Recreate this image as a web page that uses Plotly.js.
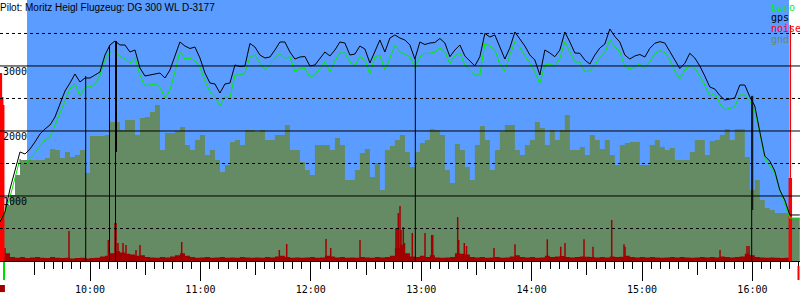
<!DOCTYPE html>
<html><head><meta charset="utf-8">
<script src="https://cdn.plot.ly/plotly-3.0.1.min.js"></script>
<style>html,body{margin:0;padding:0;background:#fff}#c{width:800px;height:300px}</style>
</head><body><div id="c"></div>
<script>
const DAY = '2000-01-01 ';
const titleText = 'Pilot: Moritz Heigl Flugzeug: DG 300 WL D-3177';
const sampleStart = '09:11:05';
const sampleStepSec = 163;

const gps = [600,754,1108,1415,1677,1646,1723,1831,1954,2031,
2092,2215,2431,2615,2738,2877,2754,2815,2815,2861,
2907,3169,3323,3384,3323,3323,3215,3246,2969,2846,
2861,2884,2892,2815,2938,3154,3369,3307,3269,3292,
3123,2892,2738,2723,2584,2723,2738,3015,2992,3000,
3346,3292,3169,3123,3138,3246,3369,3369,3215,3107,
3138,3146,3000,3015,3123,3215,3154,3246,3369,3353,
3169,3184,3307,3261,3046,3215,3400,3215,3430,3477,
3430,3400,3323,3107,3369,3330,3353,3361,3423,3353,
3143,3246,3323,3154,3069,3000,3143,3500,3446,3477,
3292,3107,3277,3523,3415,3307,3169,3092,2861,3246,
3200,3143,3246,3523,3369,3200,3195,3092,3030,3169,
3277,3338,3569,3454,3369,3169,3107,3154,3177,3138,
3272,3349,3374,3353,3223,3100,2961,3041,3195,3123,
3000,2846,2677,2646,2546,2477,2492,2507,2707,2707,
2527,2384,1989,1615,1538,1384,1092,938,708,708,
708];

const baro = [631,738,985,1261,1569,1492,1569,1661,1769,1861,
1908,2092,2277,2461,2646,2734,2538,2677,2677,2723,
2861,3092,3215,3230,3143,3115,3046,3138,2861,2692,
2707,2723,2681,2507,2630,2907,3230,3107,3123,3077,
2984,2769,2604,2538,2384,2527,2507,2861,2861,2892,
3138,3169,3046,2938,3026,3107,3195,3118,3143,2912,
2969,2961,2830,2861,2969,3061,2907,3077,3200,3200,
3061,3015,3143,3092,2877,3138,3169,2938,3123,3323,
3220,3184,3143,2984,3138,3195,3195,3215,3277,3215,
3041,3154,3200,3015,2923,2861,2861,3349,3307,3246,
3030,2923,3169,3374,3292,3154,3046,2907,2734,3015,
3030,3000,3118,3374,3215,3061,3061,2912,2923,3015,
3130,3200,3400,3297,3220,2989,2954,2984,3041,2964,
3066,3195,3238,3207,3092,2923,2800,2938,3007,2969,
2846,2707,2538,2580,2426,2323,2349,2374,2554,2554,
2461,2307,1969,1584,1469,1349,1092,892,661,661,
661];

const gnd = [738,861,1015,1323,1554,1554,1554,1554,1554,1584,
1723,1708,1584,1677,1600,1631,1708,1354,1923,1923,
1923,1938,2138,2138,2015,2169,2169,1938,2200,2215,
2292,2400,1708,1969,1969,2000,2061,1784,1708,1861,
1938,1631,1708,1554,1369,1477,1831,1861,1784,2015,
2015,1984,2015,1861,1861,1938,1938,2092,1708,1708,
1523,1400,1323,1784,1784,1784,1708,1892,1784,1246,
1246,1400,1661,1723,1292,1508,1092,1708,1769,1861,
1938,1677,1446,1677,1815,1861,2031,2015,1938,1400,
1200,1800,1708,1446,1246,1784,2077,1861,1400,1708,
1984,2092,2092,1708,1631,1784,1861,2138,2046,1784,
2015,1861,2015,2246,1708,1708,1754,1631,1938,1861,
1723,1861,1631,1477,1784,1815,1831,1831,1477,1477,
1784,1861,1754,1708,1738,1554,1554,1554,1677,1861,
1861,1631,1846,1861,1938,2031,1861,2031,2031,1600,
1092,1246,938,815,785,738,738,738,661,661,
661];

const noiseBase = [60,120,60,50,60,45,55,60,50,45,
60,50,45,50,40,45,50,40,45,50,
70,80,120,150,130,110,100,80,90,60,
55,50,60,55,70,90,120,80,60,50,
55,60,50,55,60,50,55,50,60,55,
50,55,50,60,55,70,80,60,50,55,
50,55,60,50,55,80,70,55,60,50,
55,50,60,55,50,60,55,60,80,200,
250,120,70,60,80,60,90,55,50,55,
60,120,110,100,60,55,60,50,55,60,
50,55,70,90,60,55,60,50,55,80,
60,70,75,60,55,60,70,65,60,55,
60,55,70,60,65,80,60,55,60,55,
60,55,50,55,60,55,60,55,50,55,
60,55,60,55,70,60,55,60,70,110,
90,60,55,50,55,50,45,50,0,0,
0];

const spikeTimes = ['09:11:22','09:11:50','09:12:33','09:13:06','09:13:48','09:48:35','10:09:57','10:13:35','10:14:08','10:15:13','10:17:56',
'10:19:34','10:25:00','10:27:10','10:49:50','11:42:53','11:46:54','12:08:16','12:10:49','12:26:44','12:46:18',
'12:46:51','12:47:33','12:48:29','12:49:01','12:50:16','12:50:56','12:55:10','13:02:04','13:05:42','13:06:15',
'13:19:50','13:20:23','13:23:26','13:24:37','13:39:34','13:50:59','14:08:32','14:15:49','14:18:09','14:28:29',
'14:33:22','14:43:32','14:50:13','14:50:46','15:42:24','15:57:04','15:58:09','16:20:03','16:20:36','16:21:08'];
const spikeValues = [2892,2892,2523,2400,200,461,323,585,585,277,277,
246,169,246,292,169,262,338,200,323,508,
508,738,846,477,523,277,431,431,400,400,
677,323,277,231,200,257,334,220,277,334,
220,631,257,220,169,231,231,1277,3630,1277];

const gpsDropTimes = ['09:57:40','10:10:36','10:13:52','10:14:24','12:56:48','15:59:37','16:00:10'];
const gpsDropTop = [2846,3323,3384,3384,3107,2540,2540];
const gpsDropBottom = [0,0,0,1677,0,0,785];

const skyWindow = ['09:25:46','16:19:54'];
const axisRange = ['09:11:05','16:25:52'];
const takeoffMark = '09:13:16';
const landingMark = '16:25:03';
const startMark = '09:12:23';

const legendNames = ['baro','gps','noise','gnd'];
const yTicks = [1000,2000,3000];
const gridSolid = [1000,2000,3000];
const gridDashed = [500,1500,2500,3500];

const C = {sky:'#5a9cff', gnd:'#658b64', baro:'#00ee00', gps:'#000000', noise:'#ff0000', noiseDark:'#a00000'};
const MONO = 'DejaVu Sans Mono';

function toSec(s){const p=s.split(':').map(Number);return p[0]*3600+p[1]*60+(p[2]||0);}
function fmt(sec){sec=Math.round(sec);const h=Math.floor(sec/3600),m=Math.floor(sec%3600/60),s=sec%60;
  const z=v=>String(v).padStart(2,'0');return DAY+z(h)+':'+z(m)+':'+z(s);}
const D = s => fmt(toSec(s));
const t0 = toSec(sampleStart);
const times = gps.map((_,i)=>fmt(t0+i*sampleStepSec));

function segs(ts, tops, bots){const X=[],Y=[];ts.forEach((t,i)=>{X.push(D(t),D(t),null);Y.push(bots[i],tops[i],null);});return {X,Y};}
const drops = segs(gpsDropTimes, gpsDropTop, gpsDropBottom);
const loIdx = spikeValues.map((v,i)=>i).filter(i=>spikeValues[i]<=1000);
const hiIdx = spikeValues.map((v,i)=>i).filter(i=>spikeValues[i]>1000);
const spLo = segs(loIdx.map(i=>spikeTimes[i]), loIdx.map(i=>spikeValues[i]), loIdx.map(()=>0));
const spHi = segs(hiIdx.map(i=>spikeTimes[i]), hiIdx.map(i=>spikeValues[i]), hiIdx.map(()=>0));

const traces = [
 {x:times,y:gnd,type:'scatter',mode:'lines',line:{shape:'hv',width:0,color:C.gnd},fill:'tozeroy',fillcolor:C.gnd,hoverinfo:'skip'},
 {x:times,y:noiseBase,type:'scatter',mode:'lines',line:{shape:'hv',width:0,color:C.noiseDark},fill:'tozeroy',fillcolor:C.noiseDark,hoverinfo:'skip'},
 {x:spLo.X,y:spLo.Y,type:'scatter',mode:'lines',line:{color:C.noiseDark,width:1.5,simplify:false},connectgaps:false,hoverinfo:'skip'},
 {x:spHi.X,y:spHi.Y,type:'scatter',mode:'lines',line:{color:C.noise,width:1.5,simplify:false},connectgaps:false,hoverinfo:'skip',cliponaxis:false},
 {x:times,y:baro,type:'scatter',mode:'lines',line:{color:C.baro,width:1}},
 {x:times,y:gps,type:'scatter',mode:'lines',line:{color:C.gps,width:1}},
 {x:drops.X,y:drops.Y,type:'scatter',mode:'lines',line:{color:C.gps,width:1,simplify:false},xaxis:'x2',connectgaps:false}
];

const shapes = [
 {type:'rect',xref:'x',yref:'paper',x0:D(skyWindow[0]),x1:D(skyWindow[1]),y0:0,y1:1,fillcolor:C.sky,line:{width:0},layer:'below'}
];
gridSolid.forEach(v=>shapes.push({type:'line',xref:'paper',yref:'y',x0:0,x1:1,y0:v,y1:v,line:{color:'#000',width:1},layer:'above'}));
gridDashed.forEach(v=>shapes.push({type:'line',xref:'paper',yref:'y',x0:0,x1:1,y0:v,y1:v,line:{color:'#000',width:1,dash:'3px,3px'},layer:'above'}));
const mk=(t,color,y0,y1,half)=>({type:'rect',xref:'x',yref:'paper',x0:fmt(toSec(t)-half),x1:fmt(toSec(t)+half),y0:y0,y1:y1,fillcolor:color,line:{width:0},layer:'above'});
shapes.push(mk(takeoffMark,'#00dd00',-0.004,-0.073,33));
shapes.push(mk(landingMark,C.noise,-0.019,-0.073,33));
shapes.push(mk(startMark,C.noiseDark,-0.092,-0.119,82));

const legendColors=[C.baro,C.gps,C.noise,C.gnd];
const annotations = legendNames.map((n,i)=>({text:n,xref:'paper',yref:'paper',x:770/800,y:(261-(7+i*10.7))/261,
  xanchor:'left',yanchor:'middle',showarrow:false,font:{family:MONO,size:10,color:legendColors[i]},borderpad:0}));

const layout = {
 width:800,height:300,margin:{l:0,r:0,t:0,b:39},paper_bgcolor:'#fff',plot_bgcolor:'#fff',showlegend:false,
 title:{text:titleText,font:{family:'Liberation Sans',size:10,color:'#000'},xref:'container',x:0,xanchor:'left',
   yref:'container',y:1-7/300,yanchor:'middle',pad:{t:0,b:0,l:0,r:0}},
 xaxis:{type:'date',range:[D(axisRange[0]),D(axisRange[1])],showline:true,linecolor:'#000',linewidth:1,
   ticks:'outside',ticklen:19,tickwidth:1,tickcolor:'#000',tick0:DAY+'00:00:00',dtick:3600000,tickformat:'%H:%M',
   tickfont:{family:MONO,size:10,color:'#000'},showgrid:false,zeroline:false,layer:'above traces',
   minor:{ticks:'outside',ticklen:7,tickwidth:1,tickcolor:'#000',dtick:300000,tick0:DAY+'00:00:00',showgrid:false}},
 xaxis2:{type:'date',overlaying:'x',matches:'x',anchor:'y',side:'bottom',ticks:'outside',ticklen:13,tickwidth:1,tickcolor:'#000',
   tick0:DAY+'00:00:00',dtick:1800000,showticklabels:false,showgrid:false,showline:false,zeroline:false,layer:'above traces'},
 yaxis:{range:[0,4015],tickmode:'array',tickvals:yTicks,ticks:'',showgrid:false,zeroline:false,showline:false,
   ticklabelposition:'inside',ticklabelshift:6,ticklabelstandoff:0,tickfont:{family:MONO,size:10,color:'#000'},layer:'above traces'},
 shapes:shapes,annotations:annotations
};
Plotly.newPlot('c',traces,layout,{staticPlot:true,displayModeBar:false});
</script></body></html>
